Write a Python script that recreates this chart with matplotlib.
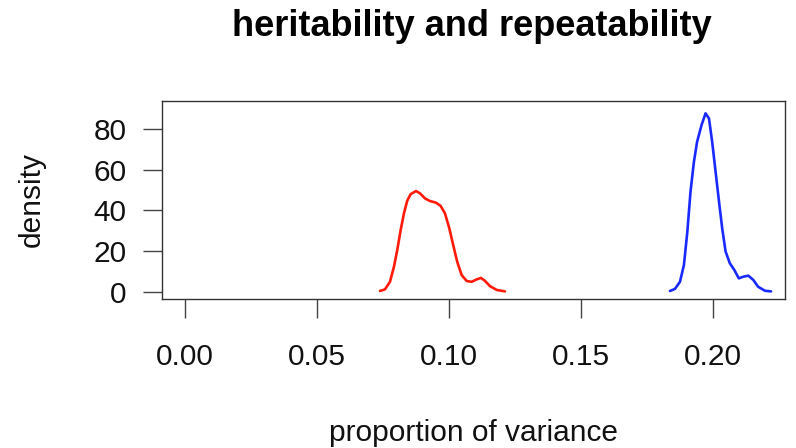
import matplotlib
matplotlib.use("Agg")
import matplotlib.pyplot as plt

plt.rcParams['font.family'] = ['Liberation Sans', 'DejaVu Sans']

# heritability density (red)
herit_x = [0.07375, 0.07564, 0.07754, 0.07905, 0.08030, 0.08159, 0.08284, 0.08409,
           0.08538, 0.08739, 0.08890, 0.09080, 0.09269, 0.09496, 0.09674, 0.09837,
           0.10000, 0.10150, 0.10300, 0.10470, 0.10660, 0.10850, 0.11040, 0.11200,
           0.11350, 0.11540, 0.11800, 0.12110]
herit_y = [0.5, 1.3, 5.0, 12.4, 20.6, 30.4, 38.6, 44.8,
           48.0, 49.5, 48.4, 45.9, 44.6, 43.8, 42.2, 38.6,
           31.3, 23.0, 14.9, 8.3, 5.4, 5.0, 6.2, 6.9,
           5.5, 2.9, 1.0, 0.3]

# repeatability density (blue)
rep_x = [0.1836, 0.1855, 0.1874, 0.1889, 0.1902, 0.1914, 0.1927, 0.1939,
         0.1956, 0.1971, 0.1984, 0.1996, 0.2009, 0.2022, 0.2034, 0.2047,
         0.2063, 0.2080, 0.2097, 0.2114, 0.2133, 0.2152, 0.2170, 0.2196,
         0.2219]
rep_y = [0.5, 1.5, 5.0, 13.2, 29.5, 49.2, 63.9, 73.7,
         81.9, 87.6, 85.1, 73.7, 59.0, 44.3, 31.3, 19.8,
         14.1, 10.8, 6.7, 7.5, 8.0, 5.9, 2.6, 0.6,
         0.3]

xticks = [0.00, 0.05, 0.10, 0.15, 0.20]
xticklabels = ["0.00", "0.05", "0.10", "0.15", "0.20"]
yticks = [0, 20, 40, 60, 80]

W, H = 796, 448
fig = plt.figure(figsize=(W / 100, H / 100), dpi=100)
ax = fig.add_axes([162 / W, 1 - 299 / H, (785 - 162) / W, (299 - 100.7) / H])

ax.plot(herit_x, herit_y, color='#FF1A0A', lw=1.9, solid_capstyle='round', solid_joinstyle='round')
ax.plot(rep_x, rep_y, color='#1A2AFF', lw=1.9, solid_capstyle='round', solid_joinstyle='round')

ax.set_xlim(-0.00883, 0.2272)
ax.set_ylim(-3.43, 93.8)

ax.set_xticks(xticks)
ax.set_xticklabels(xticklabels)
ax.set_yticks(yticks)

for s in ax.spines.values():
    s.set_color('#333333')
    s.set_linewidth(1.0)

ax.tick_params(axis='both', direction='out', length=13.7, width=1.0, color='#444444',
               labelsize=21.5, labelcolor='#111111')
ax.tick_params(axis='x', pad=18)
ax.tick_params(axis='y', pad=12)

fig.text(473.5 / W, 1 - 433 / H, "proportion of variance", ha='center', va='center',
         fontsize=21.5, color='#111111')
fig.text(32 / W, 1 - 199 / H, "density", ha='center', va='center', rotation=90,
         fontsize=21.5, color='#111111')
fig.text(471.5 / W, 1 - 27 / H, "heritability and repeatability", ha='center', va='center',
         fontsize=26, fontweight='bold', color='black')

fig.savefig("out.png", dpi=100)
